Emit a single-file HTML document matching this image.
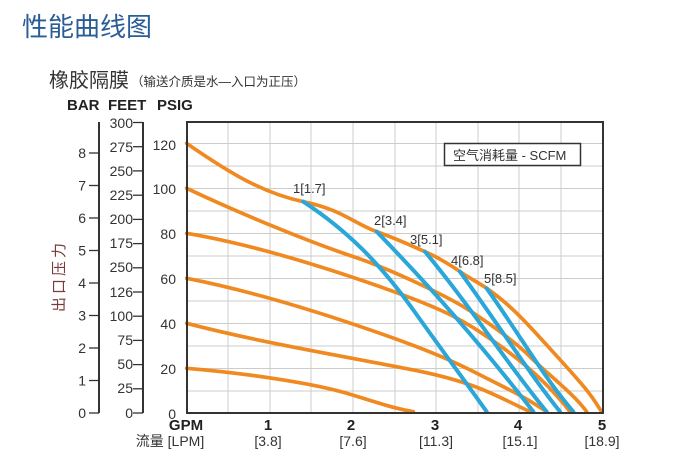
<!DOCTYPE html>
<html><head><meta charset="utf-8"><style>
html,body{margin:0;padding:0;background:#fff;}
body{width:696px;height:462px;overflow:hidden;position:relative;font-family:"Liberation Sans","Noto Sans CJK SC",sans-serif;}
</style></head><body>
<svg width="696" height="462" viewBox="0 0 696 462" xmlns="http://www.w3.org/2000/svg" style="position:absolute;left:0;top:0">
<g font-family="Liberation Sans, Noto Sans CJK SC, sans-serif">
<text x="22" y="36" font-size="26" fill="#2a5d96">性能曲线图</text>
<text x="49" y="87" font-size="20" fill="#333">橡胶隔膜</text>
<text x="131" y="86" font-size="12.5" fill="#333">（输送介质是水—入口为正压）</text>
<text x="67" y="110" font-size="15" font-weight="bold" fill="#222">BAR</text>
<text x="108" y="110" font-size="15" font-weight="bold" fill="#222">FEET</text>
<text x="157" y="110" font-size="15" font-weight="bold" fill="#222">PSIG</text>
<text font-size="15" fill="#7a3a3a" transform="translate(64,312) rotate(-90)" letter-spacing="3">出口压力</text>
</g>
<g stroke="#333" stroke-width="2" fill="none">
<line x1="99" y1="122" x2="99" y2="413"/>
<line x1="143" y1="122" x2="143" y2="413"/>
</g>
<g stroke="#333" stroke-width="1.3">
<line x1="89" y1="413" x2="99" y2="413"/><line x1="89" y1="380.5" x2="99" y2="380.5"/><line x1="89" y1="348" x2="99" y2="348"/><line x1="89" y1="315.5" x2="99" y2="315.5"/><line x1="89" y1="283" x2="99" y2="283"/><line x1="89" y1="250.5" x2="99" y2="250.5"/><line x1="89" y1="218" x2="99" y2="218"/><line x1="89" y1="185.5" x2="99" y2="185.5"/><line x1="89" y1="153" x2="99" y2="153"/>
<line x1="133" y1="122.5" x2="143" y2="122.5"/><line x1="133" y1="146.7" x2="143" y2="146.7"/><line x1="133" y1="170.9" x2="143" y2="170.9"/><line x1="133" y1="195.2" x2="143" y2="195.2"/><line x1="133" y1="219.4" x2="143" y2="219.4"/><line x1="133" y1="243.6" x2="143" y2="243.6"/><line x1="133" y1="267.8" x2="143" y2="267.8"/><line x1="133" y1="292" x2="143" y2="292"/><line x1="133" y1="316.2" x2="143" y2="316.2"/><line x1="133" y1="340.4" x2="143" y2="340.4"/><line x1="133" y1="364.6" x2="143" y2="364.6"/><line x1="133" y1="388.8" x2="143" y2="388.8"/><line x1="133" y1="413" x2="143" y2="413"/>
</g>
<g font-family="Liberation Sans, sans-serif" font-size="14" fill="#333" text-anchor="end">
<text x="86" y="418">0</text><text x="86" y="385.5">1</text><text x="86" y="353">2</text><text x="86" y="320.5">3</text><text x="86" y="288">4</text><text x="86" y="255.5">5</text><text x="86" y="223">6</text><text x="86" y="190.5">7</text><text x="86" y="158">8</text>
<text x="133" y="128">300</text><text x="133" y="152">275</text><text x="133" y="176">250</text><text x="133" y="200">225</text><text x="133" y="224">200</text><text x="133" y="248">175</text><text x="133" y="272">250</text><text x="133" y="297">126</text><text x="133" y="321">100</text><text x="133" y="345">75</text><text x="133" y="369">50</text><text x="133" y="393">25</text><text x="133" y="418">0</text>
<text x="176" y="419">0</text><text x="176" y="374">20</text><text x="176" y="329">40</text><text x="176" y="284">60</text><text x="176" y="239">80</text><text x="176" y="194">100</text><text x="176" y="150">120</text>
</g>
<g stroke="#ccc" stroke-width="1">
<line x1="228" y1="122" x2="228" y2="413"/><line x1="270" y1="122" x2="270" y2="413"/><line x1="311" y1="122" x2="311" y2="413"/><line x1="353" y1="122" x2="353" y2="413"/><line x1="395" y1="122" x2="395" y2="413"/><line x1="436" y1="122" x2="436" y2="413"/><line x1="478" y1="122" x2="478" y2="413"/><line x1="519" y1="122" x2="519" y2="413"/><line x1="561" y1="122" x2="561" y2="413"/>
<line x1="187" y1="143.5" x2="603" y2="143.5"/><line x1="187" y1="166" x2="603" y2="166"/><line x1="187" y1="188.5" x2="603" y2="188.5"/><line x1="187" y1="211" x2="603" y2="211"/><line x1="187" y1="233.5" x2="603" y2="233.5"/><line x1="187" y1="256" x2="603" y2="256"/><line x1="187" y1="278.5" x2="603" y2="278.5"/><line x1="187" y1="301" x2="603" y2="301"/><line x1="187" y1="323.5" x2="603" y2="323.5"/><line x1="187" y1="346" x2="603" y2="346"/><line x1="187" y1="368.5" x2="603" y2="368.5"/><line x1="187" y1="391" x2="603" y2="391"/>
</g>
<g transform="translate(180,110) scale(0.3333)" fill="none" stroke-linecap="round">
<g stroke="#f0891f" stroke-width="11">
<path d="M20,100 C150,190 250,250 370,275 S520,340 590,365 S700,410 735,425 S820,470 840,485 S900,520 920,535 C1000,590 1050,650 1150,760 S1240,870 1265,905"/>
<path d="M20,235 C200,320 400,400 520,440 S800,560 850,590 S1000,690 1050,740 S1180,850 1220,905"/>
<path d="M20,370 C200,400 400,460 600,530 S850,630 950,700 S1120,840 1170,905"/>
<path d="M20,505 C200,540 400,600 600,670 S850,770 950,820 S1060,880 1100,905"/>
<path d="M20,640 C250,700 500,740 700,780 S950,860 1050,905"/>
<path d="M20,775 C200,790 400,820 500,850 S640,895 700,905"/>
</g>
<g stroke="#2aa6d8" stroke-width="12">
<path d="M370,275 C500,360 600,460 700,600 S860,820 920,905"/>
<path d="M590,365 C760,540 900,700 1060,905"/>
<path d="M735,425 C880,600 980,760 1100,905"/>
<path d="M840,485 C960,650 1040,780 1140,905"/>
<path d="M920,535 C1030,690 1090,800 1180,905"/>
</g>
</g>
<rect x="187" y="122" width="416" height="291" fill="none" stroke="#333" stroke-width="2"/>
<rect x="444.5" y="143.5" width="136" height="22" fill="#fff" stroke="#333" stroke-width="1.5"/>
<g font-family="Liberation Sans, Noto Sans CJK SC, sans-serif" fill="#333">
<text x="453" y="160" font-size="13">空气消耗量 - SCFM</text>
<g font-size="13">
<text x="293" y="193">1[1.7]</text><text x="374" y="225">2[3.4]</text><text x="410" y="244">3[5.1]</text><text x="451" y="265">4[6.8]</text><text x="484" y="283">5[8.5]</text>
</g>
<g font-size="15" font-weight="bold" fill="#222" text-anchor="middle">
<text x="186" y="430">GPM</text><text x="268" y="430">1</text><text x="351" y="430">2</text><text x="435" y="430">3</text><text x="518" y="430">4</text><text x="602" y="430">5</text>
</g>
<g font-size="14" text-anchor="middle">
<text x="170" y="446">流量 [LPM]</text><text x="268" y="446">[3.8]</text><text x="353" y="446">[7.6]</text><text x="436" y="446">[11.3]</text><text x="520" y="446">[15.1]</text><text x="602" y="446">[18.9]</text>
</g>
</g>
</svg>
</body></html>
